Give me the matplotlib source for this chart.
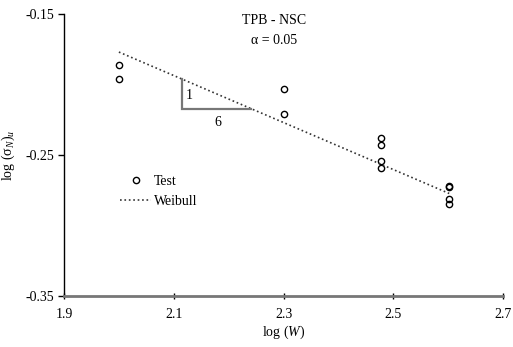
import numpy as np
import matplotlib.pyplot as plt

plt.rcParams['font.family'] = ['Liberation Serif', 'DejaVu Serif']
plt.rcParams['mathtext.fontset'] = 'custom'
plt.rcParams['mathtext.rm'] = 'Liberation Serif'
plt.rcParams['mathtext.it'] = 'Liberation Serif:italic'
plt.rcParams['mathtext.bf'] = 'Liberation Serif:bold'

# test data: log(W) and log(sigma_N)_u
test_x = [2.0, 2.0, 2.301, 2.301, 2.477, 2.477, 2.477, 2.477, 2.602, 2.602, 2.602, 2.602]
test_y = [-0.186, -0.196, -0.203, -0.221, -0.238, -0.243, -0.254, -0.259,
          -0.272, -0.273, -0.281, -0.285]

# Weibull fit (slope -1/6)
weibull_x = [2.0, 2.602]
weibull_y = [-0.177, -0.2773]

# slope triangle
tri_x = [2.115, 2.115, 2.24]
tri_y = [-0.1962, -0.2176, -0.2176]

fig = plt.figure(figsize=(5.13, 3.47), dpi=100)
ax = fig.add_axes([0.1248, 0.147, 0.8557, 0.8127])

ax.plot(test_x, test_y, 'o', mfc='none', mec='black', ms=4.5, mew=1.0, label='Test')
ax.plot(weibull_x, weibull_y, ':', color='#333333', lw=1.2, label='Weibull')
ax.plot(tri_x, tri_y, color='#777777', lw=1.6, solid_joinstyle='miter')

ax.text(2.122, -0.2075, '1', fontsize=10, va='center', ha='left')
ax.text(2.18, -0.2225, '6', fontsize=10, va='top', ha='center')

ax.text(2.282, -0.1545, 'TPB - NSC', fontsize=10, ha='center', va='center')
ax.text(2.282, -0.1685, 'α = 0.05', fontsize=10, ha='center', va='center')

ax.set_xlim(1.9, 2.7)
ax.set_ylim(-0.35, -0.15)
ax.set_xticks([1.9, 2.1, 2.3, 2.5, 2.7])
ax.set_yticks([-0.35, -0.25, -0.15])
ax.set_xticklabels(['1.9', '2.1', '2.3', '2.5', '2.7'])
ax.set_yticklabels(['-0.35', '-0.25', '-0.15'])

for s in ['top', 'right']:
    ax.spines[s].set_visible(False)
ax.spines['left'].set_linewidth(1.0)
ax.spines['bottom'].set_color('#777777')
ax.spines['bottom'].set_linewidth(2.0)
ax.tick_params(axis='y', direction='out', length=4, width=1, labelsize=10, pad=3)
ax.tick_params(axis='x', direction='inout', length=5, width=1, labelsize=10, pad=6)

ax.set_xlabel(r'log ($W$)', fontsize=10, labelpad=2)
ax.set_ylabel(r'log (σ$_{N}$)$_u$', fontsize=10, labelpad=6)

ax.legend(loc='upper left', bbox_to_anchor=(0.10, 0.475), frameon=False, fontsize=10,
          handlelength=2.2, handletextpad=0.2, labelspacing=0.55)

fig.savefig('out.png', dpi=100)
